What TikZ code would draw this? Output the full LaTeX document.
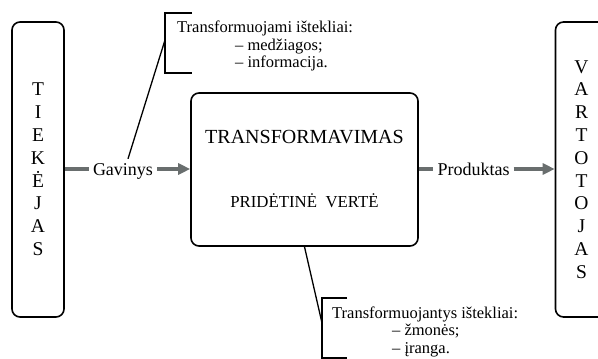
\documentclass[tikz,border=0pt]{standalone}
\usepackage{fontspec}
\setmainfont{Liberation Serif}
\usepackage{tikz}
\usetikzlibrary{arrows.meta}
\definecolor{flowgray}{RGB}{105,110,110}

\begin{document}
\begin{tikzpicture}[x=1pt,y=-1pt,
        box/.style={draw, line width=1.6pt, rounded corners=8pt, inner sep=0pt},
        side/.style={box, minimum width=52pt, minimum height=295pt,
                        align=center, font=\fontsize{19.5}{22.8}\selectfont},
        flow/.style={line width=3.5pt, color=flowgray},
        lbl/.style={inner sep=4pt, text height=12pt, text depth=0pt,
                        font=\fontsize{18}{20}\selectfont},
        note/.style={anchor=north west, inner sep=0pt, align=left,
                        font=\fontsize{16.5}{17.5}\selectfont},
        pin/.style={line width=1.3pt}]
    \useasboundingbox (0,0) rectangle (598,359);
    \node[side] (tiek) at (38,169.5) {T\\I\\E\\K\\Ė\\J\\A\\S};
    \node[side] (vart) at (581.5,169.5) {V\\A\\R\\T\\O\\T\\O\\J\\A\\S};
    \node[box, minimum width=227pt, minimum height=153pt] (transf) at (304.5,169.5) {};
    \node[font=\fontsize{20}{24}\selectfont] (title) at (304.5,137) {TRANSFORMAVIMAS};
    \node[anchor=base, font=\fontsize{16.8}{20}\selectfont] (value) at (304.5,207.5)
        {PRIDĖTINĖ\ \ VERTĖ};
    \node[lbl] (gav) at (123,169) {Gavinys};
    \node[lbl] (prod) at (473.5,169) {Produktas};
    \draw[flow] (tiek.east |- gav) -- (gav.west);
    \draw[flow, -{Triangle[length=12pt,width=11pt]}] (gav.east) -- (transf.west |- gav);
    \draw[flow] (transf.east |- prod) -- (prod.west);
    \draw[flow, -{Triangle[length=12pt,width=11pt]}] (prod.east) -- (vart.west |- prod);

    \node[note] (srcnote) at (177,21) {Transformuojami ištekliai:\\
        \hspace*{58pt}– medžiagos;\\\hspace*{58pt}– informacija.};
    \node[note] (resnote) at (332,306.5) {Transformuojantys ištekliai:\\
        \hspace*{60pt}– žmonės;\\\hspace*{60pt}– įranga.};
    \coordinate (srcpin) at (165,40);
    \coordinate (respin) at (322,323);
    \draw[pin] (192,13) -- (165,13) -- (165,73) -- (192,73)
        (347,298) -- (322,298) -- (322,358) -- (347,358);
    \draw[pin] ([xshift=5pt]gav.north) -- (srcpin);
    \draw[pin] (transf.south) -- (respin);
\end{tikzpicture}
\end{document}
